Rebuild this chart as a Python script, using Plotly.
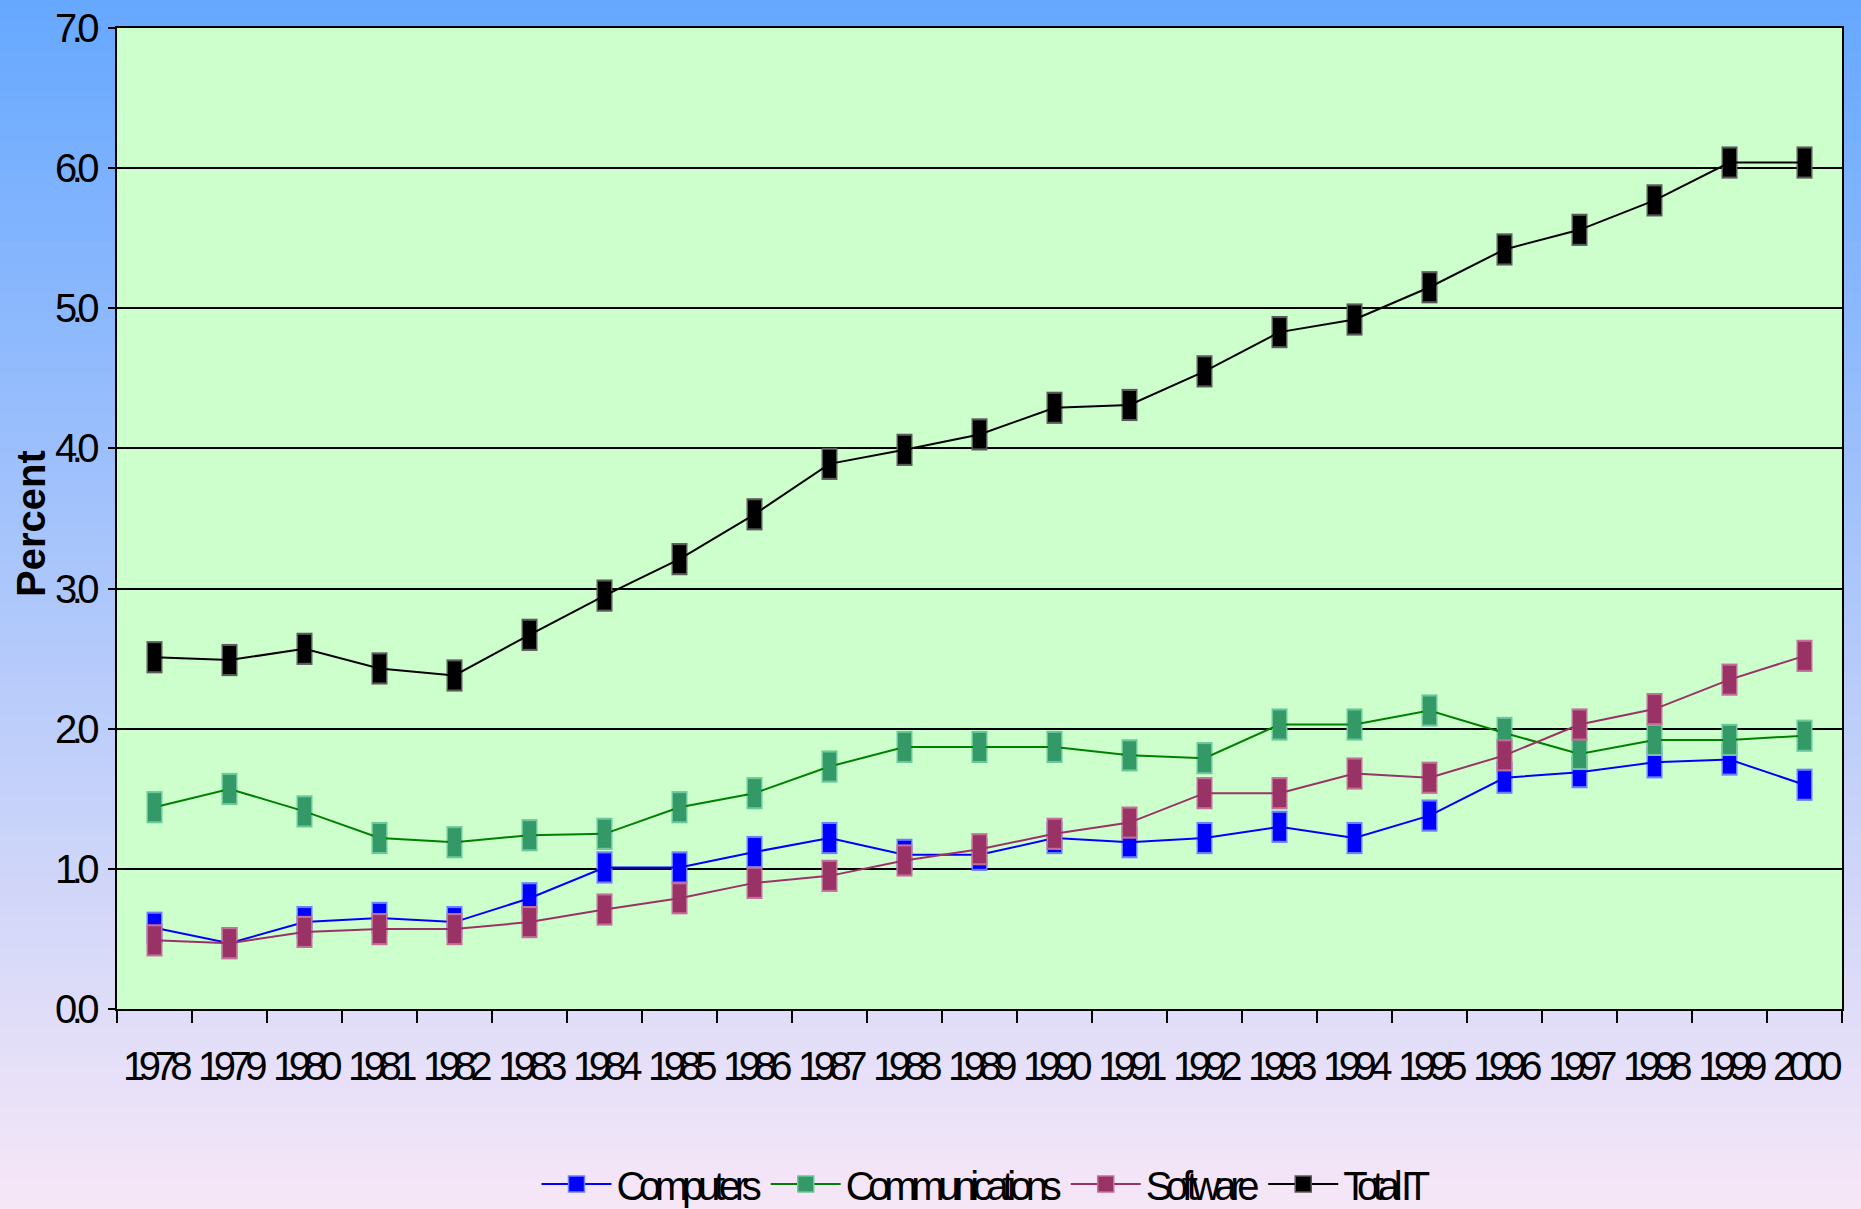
import plotly.graph_objects as go

# ---- data -------------------------------------------------------------
years = ["1978", "1979", "1980", "1981", "1982", "1983", "1984", "1985",
         "1986", "1987", "1988", "1989", "1990", "1991", "1992", "1993",
         "1994", "1995", "1996", "1997", "1998", "1999", "2000"]

computers = [0.58, 0.47, 0.62, 0.65, 0.62, 0.79, 1.01, 1.01, 1.12, 1.22, 1.10, 1.10,
             1.22, 1.19, 1.22, 1.30, 1.22, 1.38, 1.65, 1.69, 1.76, 1.78, 1.60]
communications = [1.44, 1.57, 1.41, 1.22, 1.19, 1.24, 1.25, 1.44, 1.54, 1.73, 1.87, 1.87,
                  1.87, 1.81, 1.79, 2.03, 2.03, 2.13, 1.97, 1.82, 1.92, 1.92, 1.95]
software = [0.49, 0.47, 0.55, 0.57, 0.57, 0.62, 0.71, 0.79, 0.90, 0.95, 1.06, 1.14,
            1.25, 1.33, 1.54, 1.54, 1.68, 1.65, 1.81, 2.03, 2.14, 2.35, 2.52]
total_it = [2.51, 2.49, 2.57, 2.43, 2.38, 2.67, 2.95, 3.21, 3.53, 3.89, 3.99, 4.10,
            4.29, 4.31, 4.55, 4.83, 4.92, 5.15, 5.42, 5.56, 5.77, 6.04, 6.04]

series_names = ["Computers", "Communications", "Software", "Total IT"]
y_tick_values = [0, 1, 2, 3, 4, 5, 6, 7]
y_tick_labels = ["0.0", "1.0", "2.0", "3.0", "4.0", "5.0", "6.0", "7.0"]
y_title = "Percent"

# ---- styling ----------------------------------------------------------
W, H = 1861, 1209
M_L, M_R, M_T, M_B = 117, 19, 28, 200
PW, PH = W - M_L - M_R, H - M_T - M_B

FONT = "Liberation Sans, Arial, sans-serif"
TEXT_SIZE = 40

styles = [
    # line colour, marker fill, marker rim
    ("#0000FF", "#0000FF", "#6f7dff"),
    ("#008000", "#339966", "#6cc79a"),
    ("#993366", "#993366", "#c46f9a"),
    ("#000000", "#000000", "#5a5a5a"),
]


def tight(text, spacing):
    """Wrap a label so it is set with tighter letter spacing."""
    return f'<span style="letter-spacing:{spacing}px">{text}</span>'


def px_x(px):
    return (px - M_L) / PW


def px_y(py):
    return (H - M_B - py) / PH


fig = go.Figure()

for values, name, (line_c, fill_c, rim_c) in zip(
        [computers, communications, software, total_it], series_names, styles):
    # rim of the rectangular markers
    fig.add_trace(go.Scatter(
        x=years, y=values, mode="markers", showlegend=False, hoverinfo="skip",
        marker=dict(symbol="line-ns", size=23, color=rim_c,
                    line=dict(width=16, color=rim_c)),
    ))
    # connecting line and marker body
    fig.add_trace(go.Scatter(
        x=years, y=values, mode="lines+markers", name=name, showlegend=False,
        line=dict(color=line_c, width=2),
        marker=dict(symbol="line-ns", size=20, color=fill_c,
                    line=dict(width=13, color=fill_c)),
    ))

# legend entries
for name, (line_c, fill_c, rim_c) in zip(series_names, styles):
    fig.add_trace(go.Scatter(
        x=[years[0]], y=[None], mode="lines+markers",
        name=tight(name, -6.3),
        line=dict(color=line_c, width=2),
        marker=dict(symbol="square", size=16, color=fill_c,
                    line=dict(width=1.5, color=rim_c)),
    ))

# vertical background gradient (blue at top fading to pale pink)
top_rgb = (102, 168, 255)
bottom_rgb = (247, 231, 247)
shapes = []
n_strips = 120
for i in range(n_strips):
    t = (i + 0.5) / n_strips
    c = tuple(round(a + (b - a) * t) for a, b in zip(top_rgb, bottom_rgb))
    y0 = i * H / n_strips
    y1 = (i + 1) * H / n_strips + 1
    shapes.append(dict(
        type="rect", xref="paper", yref="paper", layer="below",
        x0=px_x(-2), x1=px_x(W + 2), y0=px_y(y1), y1=px_y(y0),
        fillcolor=f"rgb{c}", line=dict(width=0),
    ))
# plotting area
shapes.append(dict(
    type="rect", xref="paper", yref="paper", layer="below",
    x0=0, x1=1, y0=0, y1=1, fillcolor="#CCFFCC", line=dict(width=0),
))

fig.update_layout(
    width=W, height=H,
    margin=dict(l=M_L, r=M_R, t=M_T, b=M_B, pad=0, autoexpand=False),
    paper_bgcolor="rgba(0,0,0,0)",
    plot_bgcolor="#CCFFCC",
    shapes=shapes,
    font=dict(family=FONT, size=TEXT_SIZE, color="#000000"),
    showlegend=True,
    legend=dict(
        orientation="h", xref="container", yref="container",
        x=986 / W, y=1 - 1184 / H,
        xanchor="center", yanchor="middle",
        bgcolor="rgba(0,0,0,0)", font=dict(family=FONT, size=TEXT_SIZE),
        itemwidth=70, tracegroupgap=0,
    ),
    annotations=[dict(
        text=f"<b>{y_title}</b>", xref="paper", yref="paper",
        x=px_x(31), y=px_y(524), textangle=-90, showarrow=False,
        font=dict(family=FONT, size=40, color="#000000"),
        xanchor="center", yanchor="middle",
    )],
    hovermode="closest",
)

fig.update_xaxes(
    type="category", categoryorder="array", categoryarray=years,
    range=[-0.5, len(years) - 0.5],
    tickmode="array", tickvals=years, ticktext=[tight(y, -6.5) for y in years],
    tickson="boundaries", ticks="outside", ticklen=12, tickwidth=2, tickcolor="#000000",
    tickangle=0, automargin=False,
    showline=True, linewidth=2, linecolor="#000000", mirror=True,
    showgrid=False, zeroline=False, ticklabelstandoff=21,
    tickfont=dict(family=FONT, size=TEXT_SIZE),
)
fig.update_yaxes(
    range=[0, 7], tickmode="array", tickvals=y_tick_values,
    ticktext=[tight(t, -5.5) for t in y_tick_labels],
    ticks="outside", ticklen=7, tickwidth=2, tickcolor="#000000",
    automargin=False,
    showline=True, linewidth=2, linecolor="#000000", mirror=True,
    showgrid=True, gridcolor="#000000", gridwidth=1.5, zeroline=False,
    ticklabelstandoff=6,
    tickfont=dict(family=FONT, size=TEXT_SIZE),
)

fig.write_html("out.html")
